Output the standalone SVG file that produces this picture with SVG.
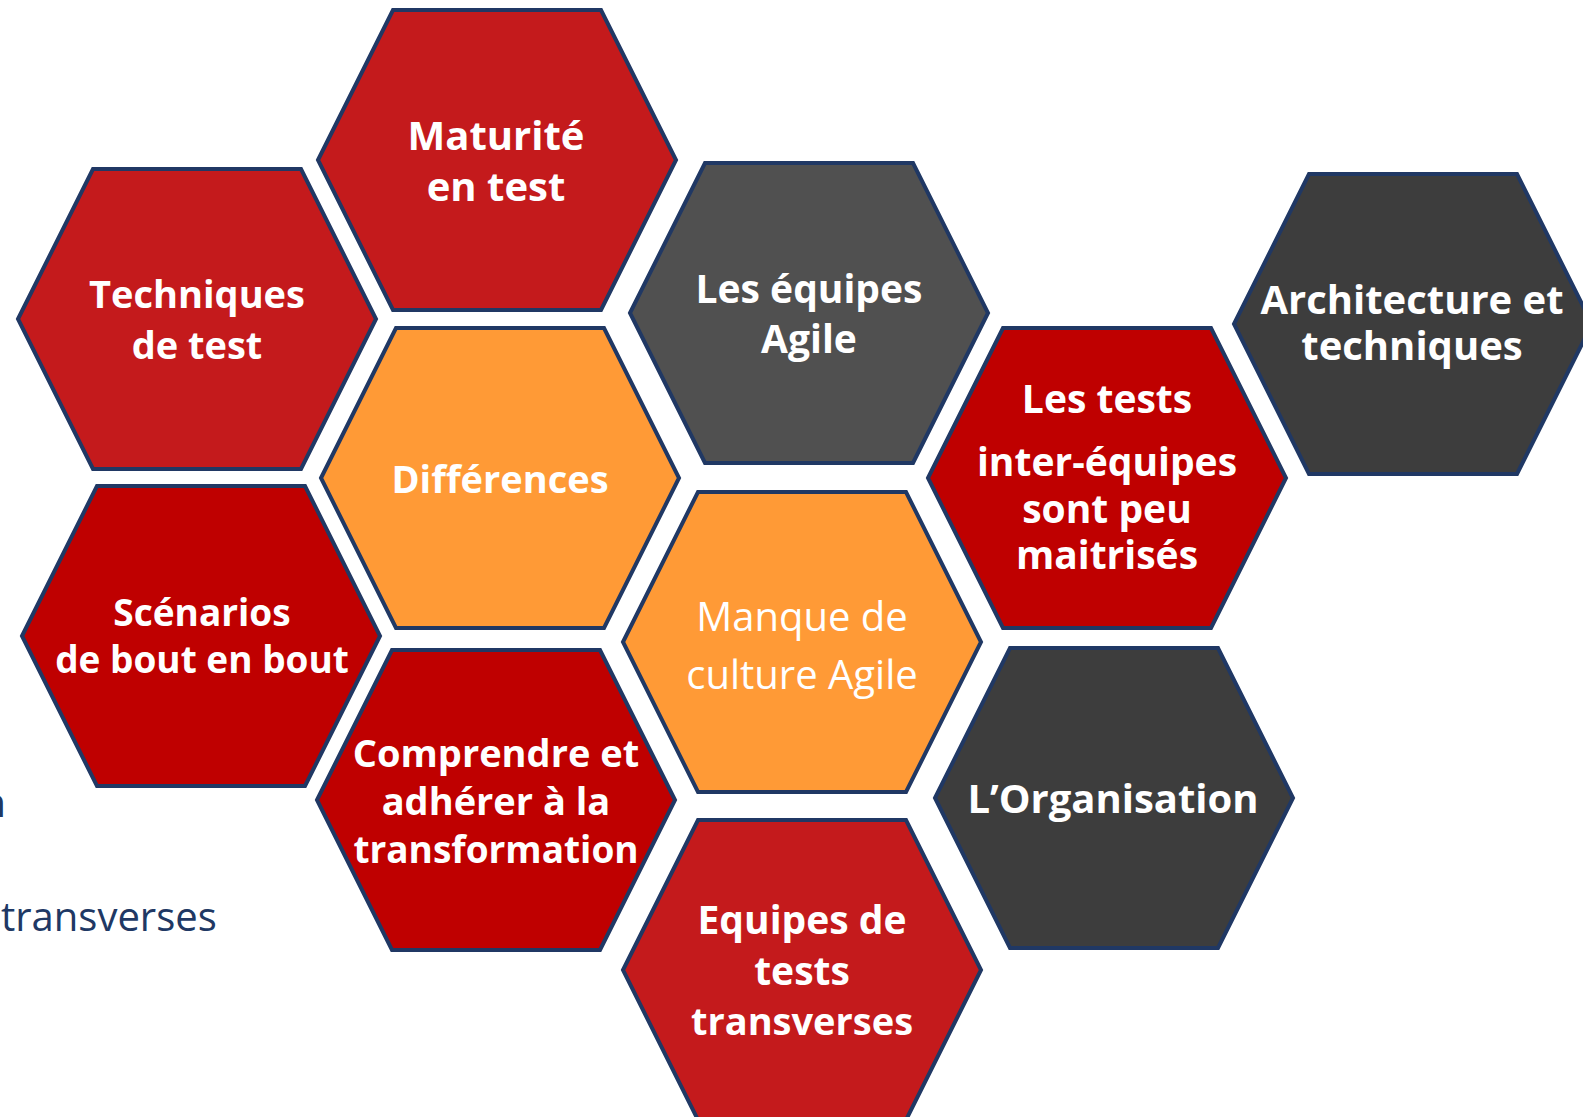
<svg xmlns="http://www.w3.org/2000/svg" xmlns:xlink="http://www.w3.org/1999/xlink" width="1583" height="1117" viewBox="0 0 1583 1117">
<style>
.hex{stroke:#203864;stroke-width:4;stroke-linejoin:miter}
.r1{fill:#C41A1C}.r2{fill:#BF0000}.g1{fill:#505050}.g2{fill:#3D3D3D}.o{fill:#FF9A36}
.t{font-family:"Open Sans","Liberation Sans",sans-serif;font-weight:700;fill:#FFFFFF;text-anchor:middle;font-size:39px}
.tr{font-family:"Open Sans","Liberation Sans",sans-serif;font-weight:400;fill:#FFFFFF;text-anchor:middle;font-size:40px}
.bg{font-family:"Open Sans","Liberation Sans",sans-serif;font-weight:400;fill:#203864;font-size:40px}
</style>
<defs>
<polygon id="hx" points="-179,0 -104,-150 104,-150 179,0 104,150 -104,150"/>
</defs>
<rect width="1583" height="1117" fill="#FFFFFF"/>
<g id="background-text">
<text class="bg" x="6" y="817" text-anchor="end">n</text>
<text class="bg" x="1" y="931">transverses</text>
</g>
<g id="connectors"></g>
<g id="n-maturite">
<use xlink:href="#hx" href="#hx" x="497" y="160" class="hex r1"/>
<text class="t" x="496" y="150" style="font-size:40px">Maturité</text>
<text class="t" x="496" y="201" style="font-size:40px">en test</text>
</g>
<g id="n-techniques">
<use xlink:href="#hx" href="#hx" x="197" y="319" class="hex r1"/>
<text class="t" x="197" y="308" style="font-size:38px">Techniques</text>
<text class="t" x="197" y="359" style="font-size:38px">de test</text>
</g>
<g id="n-differences">
<use xlink:href="#hx" href="#hx" x="500" y="478" class="hex o"/>
<text class="t" x="500" y="493" style="font-size:38px">Différences</text>
</g>
<g id="n-equipes-agile">
<use xlink:href="#hx" href="#hx" x="809" y="313" class="hex g1"/>
<text class="t" x="809" y="303">Les équipes</text>
<text class="t" x="809" y="353">Agile</text>
</g>
<g id="n-tests-inter">
<use xlink:href="#hx" href="#hx" x="1107" y="478" class="hex r2"/>
<text class="t" x="1107" y="413">Les tests</text>
<text class="t" x="1107" y="476">inter-équipes</text>
<text class="t" x="1107" y="523">sont peu</text>
<text class="t" x="1107" y="569">maitrisés</text>
</g>
<g id="n-architecture">
<use xlink:href="#hx" href="#hx" x="1413" y="324" class="hex g2"/>
<text class="t" x="1412" y="314" style="font-size:40px">Architecture et</text>
<text class="t" x="1412" y="360" style="font-size:40px">techniques</text>
</g>
<g id="n-scenarios">
<use xlink:href="#hx" href="#hx" x="201" y="636" class="hex r2"/>
<text class="t" x="202" y="626" style="font-size:37px">Scénarios</text>
<text class="t" x="202" y="673" style="font-size:37px">de bout en bout</text>
</g>
<g id="n-comprendre">
<use xlink:href="#hx" href="#hx" x="496" y="800" class="hex r2"/>
<text class="t" x="496" y="767" style="font-size:38px">Comprendre et</text>
<text class="t" x="496" y="815" style="font-size:38px">adhérer à la</text>
<text class="t" x="496" y="863" style="font-size:37px">transformation</text>
</g>
<g id="n-manque">
<use xlink:href="#hx" href="#hx" x="802" y="642" class="hex o"/>
<text class="tr" x="802" y="631">Manque de</text>
<text class="tr" x="802" y="689">culture Agile</text>
</g>
<g id="n-organisation">
<use xlink:href="#hx" href="#hx" x="1114" y="798" class="hex g2"/>
<text class="t" x="1113" y="813" style="font-size:40px">L’Organisation</text>
</g>
<g id="n-equipes-transverses">
<use xlink:href="#hx" href="#hx" x="802" y="970" class="hex r1"/>
<text class="t" x="802" y="934">Equipes de</text>
<text class="t" x="802" y="985">tests</text>
<text class="t" x="802" y="1035" style="font-size:38px">transverses</text>
</g>
</svg>
